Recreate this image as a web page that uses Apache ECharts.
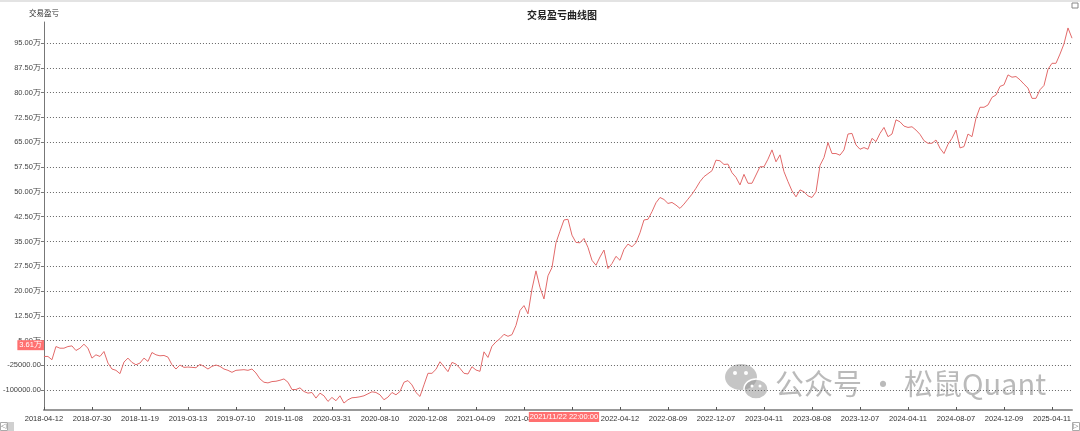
<!DOCTYPE html>
<html><head><meta charset="utf-8">
<script src="https://cdn.jsdelivr.net/npm/echarts@6/dist/echarts.min.js"></script>
<style>html,body{margin:0;padding:0;background:#fff}#c{width:1080px;height:431px}</style>
</head><body><div id="c"></div>
<script>
// x-axis tick labels (every 12th category)
const tickDates = ['2018-04-12','2018-07-30','2018-11-19','2019-03-13','2019-07-10','2019-11-08','2020-03-31','2020-08-10','2020-12-08','2021-04-09','2021-08-06','2021-12-08','2022-04-12','2022-08-09','2022-12-07','2023-04-11','2023-08-08','2023-12-07','2024-04-11','2024-08-07','2024-12-09','2025-04-11'];
const pointsPerTick = 12;
// cumulative P&L, in 万 (10,000)
const pnl = [
0.2, 0.2, -0.8, 3.2, 2.7, 2.7, 3.2, 3.4, 2.0, 2.7,
3.9, 2.7, -0.3, 0.7, 0.2, 1.7, -1.8, -3.6, -4.0, -5.0,
-1.5, -0.3, -1.6, -2.3, -1.8, -0.3, -1.3, 1.4, 0.7, 0.4,
0.5, 0.0, -2.3, -3.6, -2.4, -3.1, -3.0, -3.1, -3.2, -2.2,
-2.8, -3.6, -2.8, -2.4, -2.8, -3.6, -4.0, -4.6, -4.0, -3.9,
-3.8, -4.0, -3.6, -4.8, -6.6, -7.6, -7.8, -7.4, -7.3, -7.0,
-6.6, -7.6, -9.8, -9.8, -9.3,
-10.4, -10.9, -10.7, -12.4, -10.9, -11.7, -13.4, -12.2, -13.2, -11.7,
-13.9, -12.9, -12.3, -12.2, -12.0, -11.7, -11.1, -10.5, -10.7, -11.4,
-12.9, -12.1, -10.7, -11.4, -10.4, -7.6, -7.1, -8.4, -10.7, -11.9,
-8.4, -4.9, -4.9, -3.7, -1.4, -2.9, -4.4, -1.6, -2.1, -3.4,
-4.9, -5.1, -2.9, -3.9, -4.3, 1.6, -0.1, 3.3, 4.6, 5.6,
6.9, 6.3, 6.8, 9.6, 14.1, 15.6, 13.1, 20.6, 26.1, 21.1,
17.6, 24.6, 27.1, 34.6, 38.1,
41.5, 41.7, 36.9, 34.7, 34.6, 35.9, 33.2, 29.3, 27.8, 30.3,
32.4, 26.8, 28.3, 30.5, 29.3, 32.6, 34.2, 33.4, 34.6, 37.6,
41.5, 41.7, 44.0, 46.7, 48.3, 47.7, 46.5, 46.8, 46.0, 45.0,
46.3, 47.8, 49.3, 51.1, 53.1, 54.6, 55.5, 56.4, 59.6, 59.4,
58.3, 58.4, 55.8, 54.4, 52.1, 55.3, 52.6, 52.6, 55.1, 57.6,
57.6, 59.9, 62.7, 59.1, 61.2, 56.1, 53.1, 50.3, 48.5, 50.6,
50.0, 48.8, 48.3, 50.0, 58.0,
60.4, 64.9, 61.6, 61.6, 61.1, 62.7, 67.5, 67.7, 64.2, 62.9,
63.4, 62.9, 66.2, 65.2, 67.7, 69.5, 66.7, 67.5, 71.8, 71.2,
69.9, 69.5, 69.7, 68.7, 67.4, 65.5, 64.7, 64.7, 65.7, 63.2,
61.6, 64.4, 66.2, 68.7, 63.3, 63.7, 67.5, 66.7, 72.3, 75.6,
75.6, 76.3, 78.6, 79.3, 81.9, 82.4, 85.4, 84.7, 84.9, 83.9,
82.6, 81.4, 78.3, 78.3, 80.9, 82.2, 87.1, 88.9, 88.9, 91.7,
94.8, 99.6, 96.5
];
// y-axis tick values, in 万
const yTicks = [-10, -2.5, 5, 12.5, 20, 27.5, 35, 42.5, 50, 57.5, 65, 72.5, 80, 87.5, 95];
const pointerIndex = 130;
const pointerTime = '2021/11/22 22:00:00';
const pointerValue = 3.61;

// category dates built from the tick labels
const DAY = 86400000;
const tms = tickDates.map(d => Date.parse(d));
const categories = pnl.map((_, i) => {
  const k = Math.floor(i / pointsPerTick), j = i % pointsPerTick;
  let t;
  if (k < tms.length - 1) t = tms[k] + (tms[k + 1] - tms[k]) * j / pointsPerTick;
  else { const L = tms.length - 1; t = tms[L] + (tms[L] - tms[L - 1]) * (i - L * pointsPerTick) / pointsPerTick; }
  t = Math.round(t / DAY) * DAY;
  return new Date(t).toISOString().slice(0, 10);
});
for (let k = 0; k < tickDates.length; k++) if (k * pointsPerTick < categories.length) categories[k * pointsPerTick] = tickDates[k];

function fmtY(v) {
  return v >= 1 ? v.toFixed(2) + '万' : (v * 10000).toFixed(2);
}

const chart = echarts.init(document.getElementById('c'), null, {renderer: 'canvas'});
const FONT = 'Liberation Sans';
chart.setOption({
  animation: false,
  backgroundColor: '#fff',
  title: {
    text: '交易盈亏曲线图', left: 522, top: 5,
    textStyle: {fontSize: 10, fontWeight: 'bold', color: '#222', fontFamily: 'Noto Sans CJK SC'}
  },
  grid: {left: 43, right: 8, top: 22, bottom: 21, containLabel: false},
  xAxis: {
    type: 'category', data: categories, boundaryGap: false,
    axisLine: {onZero: false, lineStyle: {color: '#999', width: 2}},
    axisTick: {show: true, interval: pointsPerTick - 1, length: 3, inside: true, lineStyle: {color: '#555'}},
    axisLabel: {interval: pointsPerTick - 1, fontSize: 7.5, color: '#333', margin: 5, fontFamily: FONT},
    splitLine: {show: false},
    axisPointer: {
      show: true, status: 'show', value: pointerIndex, type: 'line', triggerTooltip: false,
      lineStyle: {opacity: 0},
      label: {show: true, formatter: () => pointerTime, backgroundColor: '#ff7070', color: '#fff',
        fontSize: 7.5, padding: [1, 1, 1, 1], margin: 2, fontFamily: FONT, borderRadius: 0}
    }
  },
  yAxis: {
    type: 'value', min: -16, max: 101.4,
    name: '交易盈亏', nameLocation: 'end', nameGap: 5,
    nameTextStyle: {fontSize: 7.5, color: '#333', fontFamily: 'Noto Sans CJK SC'},
    axisLine: {show: true, lineStyle: {color: '#777', width: 1}},
    axisTick: {show: true, length: 3, customValues: yTicks, lineStyle: {color: '#777'}},
    axisLabel: {customValues: yTicks, formatter: fmtY, fontSize: 7.5, color: '#444', margin: 3, fontFamily: FONT},
    splitLine: {show: true, lineStyle: {type: [1, 2], color: '#666', width: 1}},
    axisPointer: {
      show: true, status: 'show', value: pointerValue, type: 'line', triggerTooltip: false,
      lineStyle: {opacity: 0},
      label: {show: true, formatter: p => fmtY(p.value), backgroundColor: '#ff7070', color: '#fff',
        fontSize: 7.5, padding: [1, 2, 1, 2], margin: 0, fontFamily: FONT, borderRadius: 0}
    }
  },
  series: [{
    type: 'line', data: pnl, showSymbol: false, symbol: 'none',
    lineStyle: {color: '#e26a6a', width: 1}, silent: true
  }],
  graphic: [
    {type: 'rect', shape: {x: 0, y: 0, width: 1080, height: 2}, style: {fill: '#e3e3e3'}, silent: true},
    {type: 'rect', shape: {x: 1072, y: 3, width: 6, height: 5}, style: {fill: 'none', stroke: '#888', lineWidth: 1}, silent: true},
    {type: 'rect', shape: {x: 0.5, y: 422.5, width: 7, height: 8}, style: {fill: '#fff', stroke: '#aaa', lineWidth: 1}, silent: true},
    {type: 'rect', shape: {x: 8, y: 422, width: 6, height: 9}, style: {fill: '#d0d0d0'}, silent: true},
    {type: 'text', x: 1, y: 423, style: {text: '◁', fontSize: 7, fill: '#666'}, silent: true},
    {type: 'rect', shape: {x: 1072.5, y: 422.5, width: 7, height: 8}, style: {fill: '#fff', stroke: '#aaa', lineWidth: 1}, silent: true},
    {type: 'text', x: 1073, y: 423, style: {text: '▷', fontSize: 7, fill: '#666'}, silent: true},
    {type: 'group', silent: true, children: [
      {type: 'ellipse', shape: {cx: 741, cy: 377, rx: 16, ry: 13}, style: {fill: 'rgba(150,150,150,0.55)'}},
      {type: 'ellipse', shape: {cx: 756, cy: 389, rx: 12, ry: 10}, style: {fill: 'rgba(150,150,150,0.55)', stroke: '#fff', lineWidth: 1.5}},
      {type: 'circle', shape: {cx: 735, cy: 373, r: 2}, style: {fill: '#fff'}},
      {type: 'circle', shape: {cx: 746, cy: 373, r: 2}, style: {fill: '#fff'}},
      {type: 'circle', shape: {cx: 752, cy: 386, r: 1.5}, style: {fill: '#fff'}},
      {type: 'circle', shape: {cx: 760, cy: 386, r: 1.5}, style: {fill: '#fff'}}
    ]},
    {type: 'text', x: 775, y: 369, silent: true,
      style: {text: '公众号 · 松鼠Quant', fontSize: 29, fill: 'rgba(140,140,140,0.6)', fontFamily: 'Noto Sans CJK SC'}}
  ]
});
</script></body></html>
